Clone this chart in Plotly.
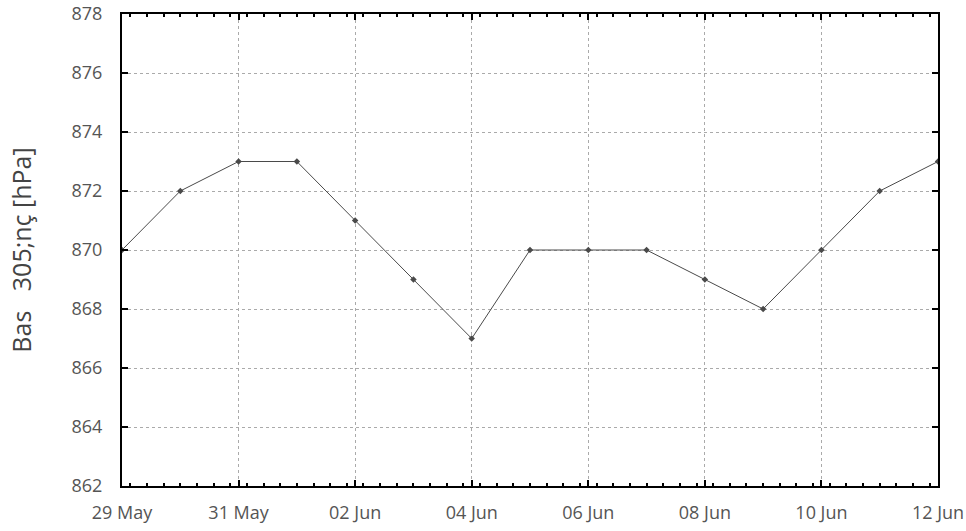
import plotly.graph_objects as go

dates = ["2024-05-29", "2024-05-30", "2024-05-31", "2024-06-01", "2024-06-02",
         "2024-06-03", "2024-06-04", "2024-06-05", "2024-06-06", "2024-06-07",
         "2024-06-08", "2024-06-09", "2024-06-10", "2024-06-11", "2024-06-12"]
pressure = [870, 872, 873, 873, 871, 869, 867, 870, 870, 870, 869, 868, 870, 872, 873]
y_label = "Bas\u00a0\u00a0\u00a0305;nç [hPa]"

fig = go.Figure()
fig.add_trace(go.Scatter(
    x=dates, y=pressure, mode="lines+markers",
    line=dict(color="#4a4a4a", width=1),
    marker=dict(symbol="diamond", size=5, color="#4a4a4a"),
    showlegend=False,
))

grid = dict(showgrid=True, gridcolor="#aaaaaa", griddash="3px,3px", gridwidth=1)
fig.update_layout(
    width=966, height=531,
    margin=dict(l=122, r=28, t=14, b=45, autoexpand=False),
    paper_bgcolor="white", plot_bgcolor="white",
    font=dict(family="Open Sans", size=18, color="#555555"),
    xaxis=dict(
        type="date", range=["2024-05-29", "2024-06-12"],
        tickformat="%d %b", dtick=2 * 86400000, tick0="2024-05-29",
        showline=True, linecolor="black", linewidth=2, mirror="ticks",
        ticks="inside", ticklen=6, tickcolor="black", tickwidth=1.5,
        ticklabelstandoff=9, automargin=False, ticklabeloverflow="allow",
        minor=dict(dtick=2 * 86400000 / 7, ticks="inside", ticklen=3, tickcolor="black", showgrid=False),
        **grid,
    ),
    yaxis=dict(
        range=[862, 878], dtick=2,
        showline=True, linecolor="black", linewidth=2, mirror="ticks",
        ticks="inside", ticklen=6, tickcolor="black", tickwidth=1.5,
        ticklabelstandoff=14, automargin=False, ticklabeloverflow="allow",
        title=dict(text=y_label, font=dict(size=25, color="#444444"), standoff=33),
        zeroline=False,
        **grid,
    ),
)
fig.write_html("out.html", config={"displayModeBar": False},
               post_script="document.body.style.margin='0px';")
